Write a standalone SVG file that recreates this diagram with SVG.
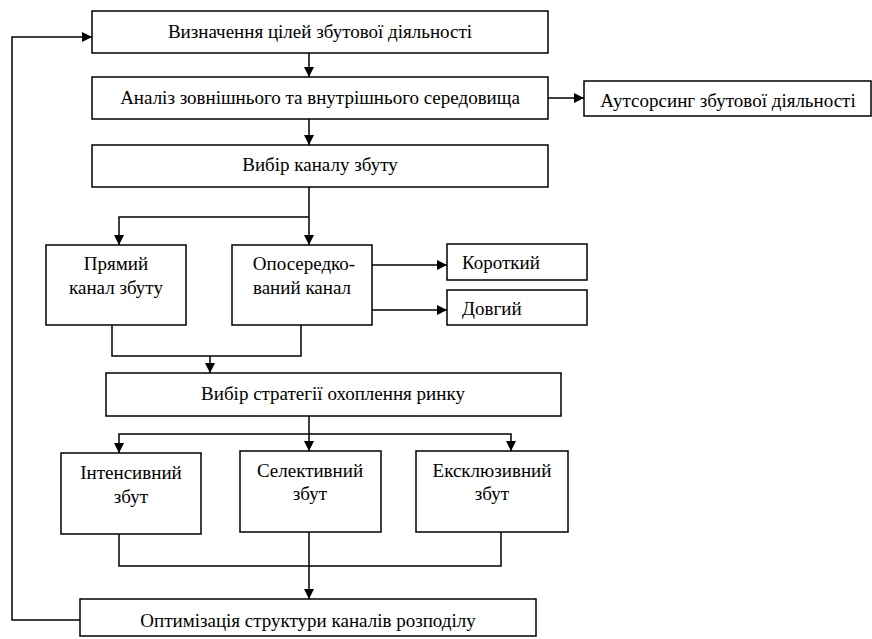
<svg xmlns="http://www.w3.org/2000/svg" width="872" height="639" viewBox="0 0 872 639">
<style>
.box{fill:#fff;stroke:#000;stroke-width:1.5}
.t{font-family:"Liberation Serif","DejaVu Serif",serif;font-size:19px;fill:#000}
.c{text-anchor:middle}
.ln{fill:none;stroke:#000;stroke-width:1.5}
</style>
<defs>
<marker id="ah" viewBox="0 0 10 10" refX="10" refY="5" markerWidth="10" markerHeight="10" markerUnits="userSpaceOnUse" orient="auto">
<path d="M0,0 L10,5 L0,10 Z" fill="#000"/>
</marker>
</defs>
<g id="connectors">
<path class="ln" d="M309,53 V77" marker-end="url(#ah)"/>
<path class="ln" d="M548,98 H584" marker-end="url(#ah)"/>
<path class="ln" d="M309,119 V145" marker-end="url(#ah)"/>
<path class="ln" d="M309,187 V245" marker-end="url(#ah)"/>
<path class="ln" d="M309,217 H119 V245" marker-end="url(#ah)"/>
<path class="ln" d="M372,265 H447" marker-end="url(#ah)"/>
<path class="ln" d="M372,310 H447" marker-end="url(#ah)"/>
<path class="ln" d="M112,325 V356 H301 V325"/>
<path class="ln" d="M210,356 V373" marker-end="url(#ah)"/>
<path class="ln" d="M309,416 V451" marker-end="url(#ah)"/>
<path class="ln" d="M309,434 H119 V453" marker-end="url(#ah)"/>
<path class="ln" d="M309,434 H511 V451" marker-end="url(#ah)"/>
<path class="ln" d="M119,534 V566 H501 V532"/>
<path class="ln" d="M309,532 V599" marker-end="url(#ah)"/>
<path class="ln" d="M80,620 H12 V37 H92" marker-end="url(#ah)"/>
</g>
<g id="n1"><rect class="box" x="92" y="11" width="456" height="42"/><text class="t c" x="320" y="38">Визначення цілей збутової діяльності</text></g>
<g id="n2"><rect class="box" x="92" y="77" width="456" height="42"/><text class="t c" x="320" y="104">Аналіз зовнішнього та внутрішнього середовища</text></g>
<g id="n3"><rect class="box" x="584" y="81" width="287" height="35"/><text class="t c" x="728" y="107">Аутсорсинг збутової діяльності</text></g>
<g id="n4"><rect class="box" x="92" y="145" width="456" height="42"/><text class="t c" x="320" y="171">Вибір каналу збуту</text></g>
<g id="n5"><rect class="box" x="46" y="245" width="140" height="80"/><text class="t c" x="116" y="270">Прямий</text><text class="t c" x="116" y="294">канал збуту</text></g>
<g id="n6"><rect class="box" x="232" y="245" width="140" height="80"/><text class="t c" x="304" y="270">Опосередко-</text><text class="t c" x="302" y="294">ваний канал</text></g>
<g id="n7"><rect class="box" x="447" y="244" width="140" height="36"/><text class="t" x="462" y="269">Короткий</text></g>
<g id="n8"><rect class="box" x="447" y="290" width="140" height="35"/><text class="t" x="462" y="315">Довгий</text></g>
<g id="n9"><rect class="box" x="106" y="373" width="455" height="43"/><text class="t c" x="333" y="400">Вибір стратегії охоплення ринку</text></g>
<g id="n10"><rect class="box" x="61" y="453" width="140" height="81"/><text class="t c" x="131" y="479">Інтенсивний</text><text class="t c" x="131" y="503">збут</text></g>
<g id="n11"><rect class="box" x="240" y="451" width="141" height="81"/><text class="t c" x="310" y="477">Селективний</text><text class="t c" x="310" y="500">збут</text></g>
<g id="n12"><rect class="box" x="416" y="451" width="152" height="81"/><text class="t c" x="492" y="477">Ексклюзивний</text><text class="t c" x="492" y="500">збут</text></g>
<g id="n13"><rect class="box" x="80" y="599" width="456" height="37"/><text class="t c" x="308" y="627">Оптимізація структури каналів розподілу</text></g>
</svg>
